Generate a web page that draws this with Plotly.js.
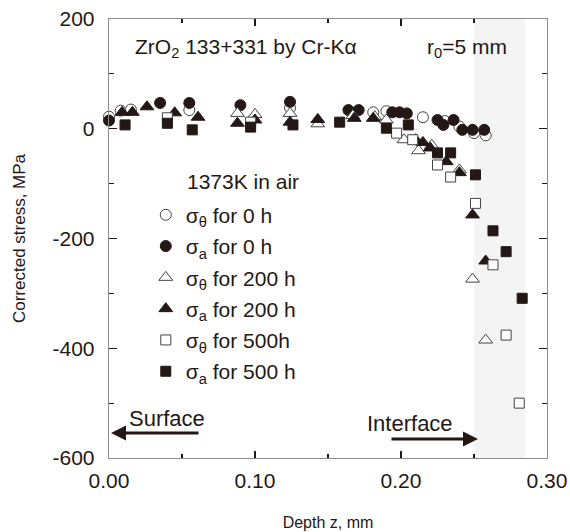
<!DOCTYPE html>
<html>
<head>
<meta charset="utf-8">
<script src="https://cdn.plot.ly/plotly-3.0.1.min.js"></script>
<style>html,body{margin:0;padding:0;background:#fff;}#chart{width:570px;height:532px;}</style>
</head>
<body>
<div id="chart"></div>
<script>
// Depth z (mm) and corrected stress (MPa) for each series
const zTheta0 = [0.000, 0.008, 0.015, 0.055, 0.124, 0.181, 0.190, 0.215, 0.230, 0.240, 0.250, 0.258];
const sTheta0 = [22, 33, 35, 34, 38, 30, 32, 21, 14, 4, -8, -12];

const zA0 = [0.000, 0.035, 0.055, 0.090, 0.124, 0.164, 0.171, 0.194, 0.199, 0.204, 0.225, 0.229, 0.236, 0.242, 0.249, 0.257];
const sA0 = [15, 47, 47, 43, 49, 34, 34, 30, 30, 28, 16, 7, 16, -2, -2, -2];

const zTheta200 = [0.088, 0.100, 0.124, 0.143, 0.167, 0.182, 0.190, 0.202, 0.212, 0.221, 0.240, 0.249, 0.258];
const sTheta200 = [28, 26, 28, 9, 24, 22, 16, -20, -40, -30, -75, -274, -385];

const zA200 = [0.009, 0.016, 0.026, 0.045, 0.061, 0.088, 0.100, 0.124, 0.143, 0.168, 0.181, 0.210, 0.215, 0.220, 0.231, 0.240, 0.249, 0.258];
const sA200 = [30, 30, 40, 29, 21, 10, 16, 12, 17, 19, 19, -20, -25, -35, -60, -80, -157, -241];

const zTheta500 = [0.040, 0.097, 0.197, 0.208, 0.225, 0.234, 0.251, 0.263, 0.272, 0.281];
const sTheta500 = [20, 12, -8, -20, -66, -88, -136, -248, -376, -500];

const zA500 = [0.011, 0.040, 0.057, 0.097, 0.126, 0.158, 0.190, 0.205, 0.225, 0.234, 0.251, 0.263, 0.272, 0.283];
const sA500 = [7, 10, -2, 3, 7, 12, 1, 7, -44, -44, -84, -186, -224, -309];

const seriesNames = ['σ<sub>θ</sub> for 0 h', 'σ<sub>a</sub> for 0 h', 'σ<sub>θ</sub> for 200 h',
                     'σ<sub>a</sub> for 200 h', 'σ<sub>θ</sub> for 500h', 'σ<sub>a</sub> for 500 h'];
const xTickVals = [0, 0.1, 0.2, 0.3];
const xTickText = ['0.00', '0.10', '0.20', '0.30'];
const yTickVals = [200, 0, -200, -400, -600];
const yTickText = ['200', '0', '-200', '-400', '-600'];

const INK = '#231815';
const FONT = 'Liberation Sans, Arial, Helvetica, sans-serif';

function tr(x, y, name, symbol, filled, size, i) {
  return {
    x: x, y: y, name: name, type: 'scatter', mode: 'markers', legendgroup: 'g' + i,
    marker: {
      symbol: symbol, size: size,
      color: filled ? INK : '#ffffff',
      line: {color: filled ? INK : '#444444', width: 1}
    },
    cliponaxis: false
  };
}

const data = [
  tr(zTheta0, sTheta0, seriesNames[0], 'circle', false, 11, 0),
  tr(zA0, sA0, seriesNames[1], 'circle', true, 11, 1),
  tr(zTheta200, sTheta200, seriesNames[2], 'triangle-up', false, 12, 2),
  tr(zA200, sA200, seriesNames[3], 'triangle-up', true, 12, 3),
  tr(zTheta500, sTheta500, seriesNames[4], 'square', false, 10, 4),
  tr(zA500, sA500, seriesNames[5], 'square', true, 10, 5)
];

const layout = {
  width: 570, height: 532,
  margin: {l: 109, r: 23, t: 19, b: 74},
  paper_bgcolor: '#ffffff', plot_bgcolor: '#ffffff',
  font: {family: FONT, color: INK, size: 20},
  showlegend: true,
  legend: {
    x: 0.084, y: 0.60, xanchor: 'left', yanchor: 'top',
    bgcolor: 'rgba(0,0,0,0)', borderwidth: 0,
    font: {family: FONT, size: 21, color: INK},
    tracegroupgap: 1, itemwidth: 30
  },
  xaxis: {
    range: [0, 0.3], tickvals: xTickVals, ticktext: xTickText,
    showgrid: false, zeroline: false,
    showline: true, linecolor: '#8c8c8c', linewidth: 1.3, mirror: 'ticks',
    ticks: 'inside', ticklen: 7, tickcolor: INK, tickwidth: 1.2,
    minor: {dtick: 0.05, ticks: 'inside', ticklen: 4, tickcolor: INK, tickwidth: 1.2, showgrid: false},
    tickfont: {family: FONT, size: 21, color: INK}, ticklabelstandoff: 3,
    title: {text: 'Depth z, mm', font: {family: FONT, size: 16, color: INK}, standoff: 26}
  },
  yaxis: {
    range: [-600, 200], tickvals: yTickVals, ticktext: yTickText,
    showgrid: false, zeroline: false,
    showline: true, linecolor: '#8c8c8c', linewidth: 1.3, mirror: 'ticks',
    ticks: 'inside', ticklen: 8, tickcolor: INK, tickwidth: 1.2,
    minor: {dtick: 100, ticks: 'inside', ticklen: 5, tickcolor: INK, tickwidth: 1.2, showgrid: false},
    tickfont: {family: FONT, size: 21, color: INK}, ticklabelstandoff: 9,
    title: {text: 'Corrected stress, MPa', font: {family: FONT, size: 17, color: INK}, standoff: 22}
  },
  shapes: [{
    type: 'rect', xref: 'x', yref: 'paper', x0: 0.25, x1: 0.285, y0: 0, y1: 1,
    fillcolor: '#f4f4f4', line: {width: 0}, layer: 'below'
  }],
  annotations: [
    {xref: 'paper', yref: 'paper', x: 0.055, y: 0.934, xanchor: 'left', yanchor: 'middle',
     text: 'ZrO<sub>2</sub> 133+331 by Cr-Kα', showarrow: false, font: {family: FONT, size: 21, color: INK}},
    {xref: 'paper', yref: 'paper', x: 0.721, y: 0.934, xanchor: 'left', yanchor: 'middle',
     text: 'r<sub>0</sub>=5 mm', showarrow: false, font: {family: FONT, size: 21, color: INK}},
    {xref: 'paper', yref: 'paper', x: (185 - 109) / 438, y: (458 - 182) / 439, xanchor: 'left', yanchor: 'middle',
     text: '1373K in air', showarrow: false, font: {family: FONT, size: 21, color: INK}},
    {xref: 'paper', yref: 'paper', x: (127 - 109) / 438, y: (458 - 418) / 439, xanchor: 'left', yanchor: 'middle',
     text: 'Surface', showarrow: false, font: {family: FONT, size: 22, color: INK}},
    {xref: 'paper', yref: 'paper', x: (365 - 109) / 438, y: (458 - 423) / 439, xanchor: 'left', yanchor: 'middle',
     text: 'Interface', showarrow: false, font: {family: FONT, size: 22, color: INK}},
    {xref: 'paper', yref: 'paper', x: (111 - 109) / 438, y: (458 - 433) / 439, axref: 'pixel', ayref: 'pixel',
     ax: 89, ay: 0, text: '', showarrow: true, arrowhead: 2, arrowsize: 1, arrowwidth: 3, arrowcolor: INK},
    {xref: 'paper', yref: 'paper', x: (478 - 109) / 438, y: (458 - 439) / 439, axref: 'pixel', ayref: 'pixel',
     ax: -88, ay: 0, text: '', showarrow: true, arrowhead: 2, arrowsize: 1, arrowwidth: 3, arrowcolor: INK}
  ]
};

Plotly.newPlot('chart', data, layout, {displayModeBar: false, staticPlot: true});
</script>
</body>
</html>
